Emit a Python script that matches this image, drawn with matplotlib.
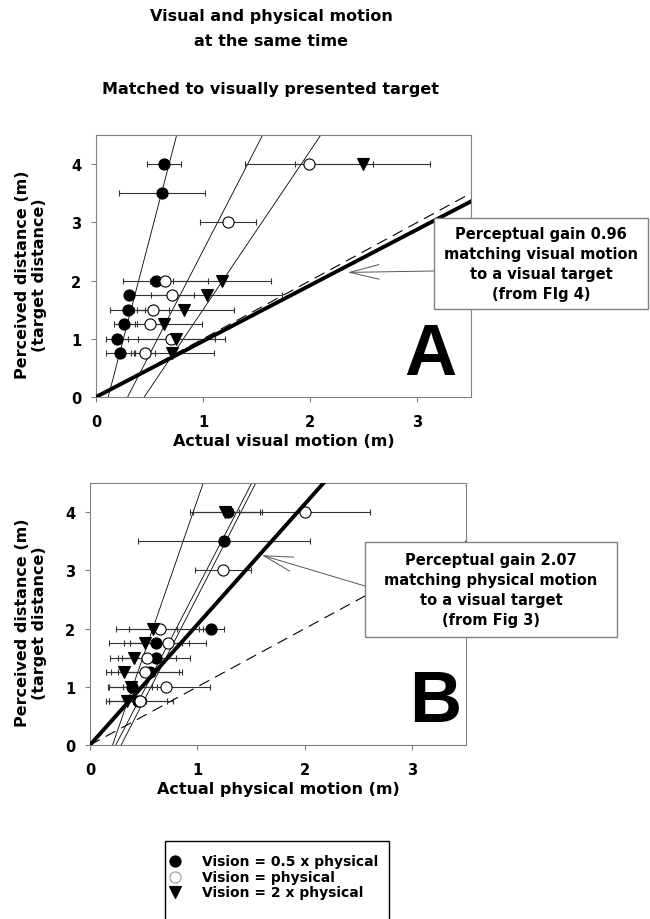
import matplotlib.pyplot as plt
import numpy as np
from matplotlib.lines import Line2D
from matplotlib.patches import Rectangle

plt.rcParams['font.family'] = ['DejaVu Sans']
plt.rcParams['font.weight'] = 'bold'
plt.rcParams['axes.labelweight'] = 'bold'

# Painel A - movimento visual
a_full_x = [0.226, 0.195, 0.264, 0.295, 0.307, 0.558, 0.617, 0.635]
a_full_y = [0.75, 1, 1.25, 1.5, 1.75, 2, 3.5, 4]
a_full_err = [0.136, 0.105, 0.1, 0.16, 0.04, 0.05, 0.4, 0.155]
a_open_x = [0.453, 0.70, 0.502, 0.533, 0.713, 0.648, 1.23, 1.99]
a_open_y = [0.75, 1, 1.25, 1.5, 1.75, 2, 3, 4]
a_open_err = [0.1, 0.5, 0.12, 0.15, 0.2, 0.4, 0.26, 0.6]
a_tri_x = [0.713, 0.75, 0.636, 0.82, 1.035, 1.175, 2.49]
a_tri_y = [0.75, 1, 1.25, 1.5, 1.75, 2, 4]
a_tri_err = [0.39, 0.357, 0.35, 0.47, 0.7, 0.455, 0.63]
a_fit_x0 = [0.114, 0.295, 0.45]
a_fit_slope = [7.04, 3.57, 2.73]
a_gain = 0.96

# Painel B - movimento fisico
b_full_x = [0.45, 0.394, 0.56, 0.612, 0.618, 1.13, 1.248, 1.28]
b_full_y = [0.75, 1, 1.25, 1.5, 1.75, 2, 3.5, 4]
b_full_err = [0.27, 0.226, 0.3, 0.317, 0.3, 0.12, 0.8, 0.32]
b_open_x = [0.463, 0.711, 0.516, 0.534, 0.727, 0.649, 1.239, 2.0]
b_open_y = [0.75, 1, 1.25, 1.5, 1.75, 2, 3, 4]
b_open_err = [0.31, 0.404, 0.317, 0.27, 0.357, 0.404, 0.26, 0.61]
b_tri_x = [0.348, 0.38, 0.317, 0.407, 0.516, 0.587, 1.26]
b_tri_y = [0.75, 1, 1.25, 1.5, 1.75, 2, 4]
b_tri_err = [0.174, 0.2, 0.165, 0.224, 0.342, 0.227, 0.325]
b_fit_x0 = [0.21, 0.24, 0.29]
b_fit_slope = [5.33, 3.555, 3.59]
b_gain = 2.07

legend_labels = ['Vision = 0.5 x physical', 'Vision = physical', 'Vision = 2 x physical']
styles = [dict(marker='o', mfc='black'), dict(marker='o', mfc='white'), dict(marker='v', mfc='black')]

W, H = 650, 920


def fx(px):
    return px / W


def fy(py):
    return 1 - py / H


fig = plt.figure(figsize=(6.5, 9.2), dpi=100)
axA = fig.add_axes([fx(96), fy(398), (471 - 96) / W, (398 - 136) / H])
axB = fig.add_axes([fx(90), fy(746), (466 - 90) / W, (746 - 484) / H])


def draw_panel(ax, groups, fit_x0, fit_slope, gain, xlabel, letter, letter_xy, ylab_x):
    for (xs, ys, errs), st in zip(groups, styles):
        ax.errorbar(xs, ys, xerr=errs, fmt=st['marker'], ms=8, mfc=st['mfc'], mec='black',
                    mew=0.8, ecolor='#333333', elinewidth=0.8, capsize=2.5, capthick=0.8, zorder=3)
    yy = np.array([0, 4.6])
    for x0, s in zip(fit_x0, fit_slope):
        ax.plot(x0 + yy / s, yy, color='black', lw=0.6, zorder=2)
    xx = np.array([0, 3.6])
    ax.plot(xx, xx, color='black', lw=0.8, dashes=(10, 6), zorder=2)
    ax.plot(xx, gain * xx, color='black', lw=2.8, zorder=4)
    ax.set_xlim(0, 3.5)
    ax.set_ylim(0, 4.5)
    ax.set_xticks([0, 1, 2, 3])
    ax.set_yticks([0, 1, 2, 3, 4])
    for sp in ax.spines.values():
        sp.set_color('#808080')
        sp.set_linewidth(0.8)
    ax.tick_params(axis='both', direction='out', length=3.5, width=0.8, color='#808080', labelsize=10.5)
    ax.tick_params(axis='x', pad=9)
    ax.tick_params(axis='y', pad=7)
    ax.set_xlabel(xlabel, fontsize=11.5)
    ax.xaxis.set_label_coords(0.5, -0.137)
    ax.set_ylabel('Perceived distance (m)\n(target distance)', fontsize=11.5, linespacing=1.2)
    ax.yaxis.set_label_coords(ylab_x, 0.47)
    ax.text(letter_xy[0], letter_xy[1], letter, fontsize=52, fontweight='bold', family='Liberation Sans',
            ha='center', va='baseline', zorder=5)


draw_panel(axA, [(a_full_x, a_full_y, a_full_err), (a_open_x, a_open_y, a_open_err), (a_tri_x, a_tri_y, a_tri_err)],
           a_fit_x0, a_fit_slope, a_gain, 'Actual visual motion (m)', 'A', (3.12, 0.39), (47 - 96) / 375)
draw_panel(axB, [(b_full_x, b_full_y, b_full_err), (b_open_x, b_open_y, b_open_err), (b_tri_x, b_tri_y, b_tri_err)],
           b_fit_x0, b_fit_slope, b_gain, 'Actual physical motion (m)', 'B', (3.21, 0.41), (47 - 90) / 376)

# Setas e caixas de texto
arrow = dict(arrowstyle='->,head_length=1.4,head_width=0.35', color='#555555', lw=0.7,
             shrinkA=0, shrinkB=0, mutation_scale=15)
axA.annotate('', xy=(2.35, 2.14), xycoords='data', xytext=(fx(434), fy(272)),
             textcoords='figure fraction', arrowprops=arrow, annotation_clip=False)
axB.annotate('', xy=(1.6, 3.26), xycoords='data', xytext=(fx(365), fy(587)),
             textcoords='figure fraction', arrowprops=arrow, annotation_clip=False)

boxes = [((434, 219.3, 648, 310), 'Perceptual gain 0.96\nmatching visual motion\nto a visual target\n(from FIg 4)'),
         ((365, 542.7, 617, 638.3), 'Perceptual gain 2.07\nmatching physical motion\nto a visual target\n(from Fig 3)')]
for (x0, y0, x1, y1), txt in boxes:
    fig.add_artist(Rectangle((fx(x0), fy(y1)), (x1 - x0) / W, (y1 - y0) / H, transform=fig.transFigure,
                             facecolor='white', edgecolor='#808080', lw=1, zorder=5))
    fig.text(fx((x0 + x1) / 2), fy((y0 + y1) / 2), txt, ha='center', va='center', multialignment='center',
             fontsize=10.5, linespacing=1.4, zorder=6)

# Titulos
fig.text(fx(271), fy(20.7), 'Visual and physical motion', ha='center', va='baseline', fontsize=11.5)
fig.text(fx(271), fy(45.7), 'at the same time', ha='center', va='baseline', fontsize=11.5)
fig.text(fx(271), fy(94), 'Matched to visually presented target', ha='center', va='baseline', fontsize=11.5)

# Legenda
fig.add_artist(Rectangle((fx(165), fy(960)), (389 - 165) / W, (960 - 841.7) / H, transform=fig.transFigure,
                         facecolor='white', edgecolor='black', lw=1, zorder=5))
for i, (lab, st) in enumerate(zip(legend_labels, styles)):
    yrow = 862 + i * 15.7
    fig.add_artist(Line2D([fx(175)], [fy(yrow)], transform=fig.transFigure, marker=st['marker'], ms=8,
                          mfc=st['mfc'], mec='black' if st['mfc'] == 'black' else '#999999', mew=0.8,
                          linestyle='none', zorder=6))
    fig.text(fx(202), fy(yrow), lab, ha='left', va='center', fontsize=10, zorder=6)

plt.savefig('out.png', dpi=100)
